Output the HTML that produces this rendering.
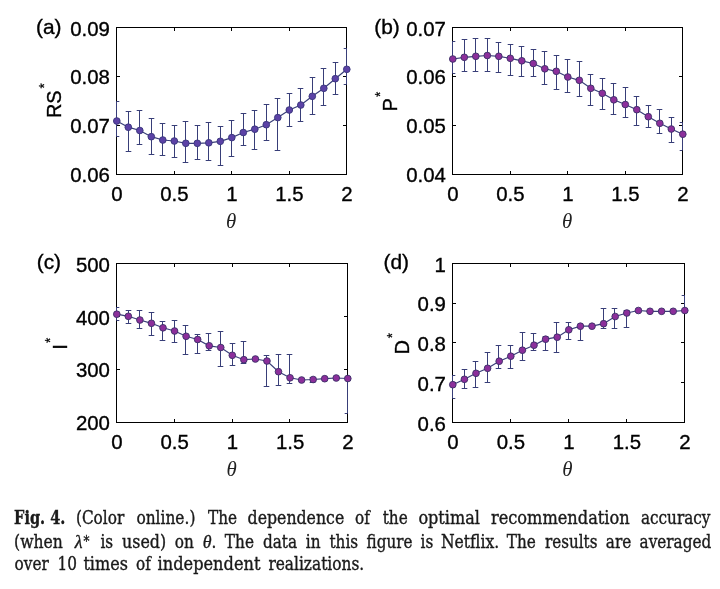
<!DOCTYPE html>
<html lang="en">
<head>
<meta charset="utf-8">
<title>Fig. 4</title>
<style>
html,body{margin:0;padding:0;background:#fff;}
body{width:720px;height:589px;position:relative;overflow:hidden;}
svg{position:absolute;left:0;top:0;will-change:transform;}
svg text{font-family:"Liberation Sans",sans-serif;font-size:20px;fill:#000;stroke:#000;stroke-width:0.35px;}
svg text.th{font-family:"Liberation Serif",serif;font-style:italic;font-size:22px;fill:#222;stroke:none;}
svg .sup{font-size:13.5px;stroke-width:0.2px;}
svg text.yl{font-size:20px;}
svg text.cp{font-family:"DejaVu Serif Condensed","DejaVu Serif",serif;font-size:18px;fill:#1a1a1a;stroke:#1a1a1a;stroke-width:0.35px;}
svg .mi{font-family:"Liberation Serif",serif;font-style:italic;font-size:19px;}
</style>
</head>
<body>
<svg width="720" height="589" viewBox="0 0 720 589">
<g id="panel-a">
<rect x="116.5" y="27.5" width="230" height="147" fill="none" stroke="#000" stroke-width="1"/>
<path d="M174.5 174.5v-3.5M174.5 27.5v3.5M231.5 174.5v-3.5M231.5 27.5v3.5M289.5 174.5v-3.5M289.5 27.5v3.5M116.5 76.5h3.5M346.5 76.5h-3.5M116.5 125.5h3.5M346.5 125.5h-3.5" stroke="#000" stroke-width="1" fill="none"/>
<path d="M116.5 101.3V136.7M116.5 101.5H119.3M116.5 136.5H119.3M128.5 111.3V151.3M125.7 111.5H131.3M125.7 151.5H131.3M139.5 110.3V144.2M136.7 110.5H142.3M136.7 144.5H142.3M151.5 118.3V154.3M148.7 118.5H154.3M148.7 154.5H154.3M162.5 123.3V155.3M159.7 123.5H165.3M159.7 155.5H165.3M174.5 125.3V157.3M171.7 125.5H177.3M171.7 157.5H177.3M185.5 121.3V162.3M182.7 121.5H188.3M182.7 162.5H188.3M197.5 125.3V159.3M194.7 125.5H200.3M194.7 159.5H200.3M208.5 122.3V160.5M205.7 122.5H211.3M205.7 160.5H211.3M220.5 126.3V165.5M217.7 126.5H223.3M217.7 165.5H223.3M231.5 120.3V156.3M228.7 120.5H234.3M228.7 156.5H234.3M243.5 113.3V145.3M240.7 113.5H246.3M240.7 145.5H246.3M254.5 110.3V149.3M251.7 110.5H257.3M251.7 149.5H257.3M266.5 104.3V140.3M263.7 104.5H269.3M263.7 140.5H269.3M277.5 98.3V150.3M274.7 98.5H280.3M274.7 150.5H280.3M289.5 93.3V126.3M286.7 93.5H292.3M286.7 126.5H292.3M300.5 88.3V121.3M297.7 88.5H303.3M297.7 121.5H303.3M312.5 77.3V114.3M309.7 77.5H315.3M309.7 114.5H315.3M323.5 68.3V105.3M320.7 68.5H326.3M320.7 105.5H326.3M335.5 62.3V94.3M332.7 62.5H338.3M332.7 94.5H338.3M346.5 48.3V84.3M343.7 48.5H346.5M343.7 84.5H346.5" stroke="#383e78" stroke-width="1" fill="none"/>
<polyline points="116.8,121 128.3,127.2 139.8,130.5 151.3,136.7 162.8,140 174.3,141 185.8,143.3 197.3,143.3 208.8,142.8 220.3,141.3 231.8,137.6 243.3,132.5 254.8,129.2 266.3,124.7 277.8,117.6 289.3,110 300.8,105 312.3,96.3 323.8,88.3 335.3,78.7 346.8,69.3" stroke="#383e78" stroke-width="1.2" fill="none"/>
<circle cx="116.8" cy="121" r="3.35" fill="#5c42a6" stroke="#38357a" stroke-width="0.9"/>
<circle cx="128.3" cy="127.2" r="3.35" fill="#5c42a6" stroke="#38357a" stroke-width="0.9"/>
<circle cx="139.8" cy="130.5" r="3.35" fill="#5c42a6" stroke="#38357a" stroke-width="0.9"/>
<circle cx="151.3" cy="136.7" r="3.35" fill="#5c42a6" stroke="#38357a" stroke-width="0.9"/>
<circle cx="162.8" cy="140" r="3.35" fill="#5c42a6" stroke="#38357a" stroke-width="0.9"/>
<circle cx="174.3" cy="141" r="3.35" fill="#5c42a6" stroke="#38357a" stroke-width="0.9"/>
<circle cx="185.8" cy="143.3" r="3.35" fill="#5c42a6" stroke="#38357a" stroke-width="0.9"/>
<circle cx="197.3" cy="143.3" r="3.35" fill="#5c42a6" stroke="#38357a" stroke-width="0.9"/>
<circle cx="208.8" cy="142.8" r="3.35" fill="#5c42a6" stroke="#38357a" stroke-width="0.9"/>
<circle cx="220.3" cy="141.3" r="3.35" fill="#5c42a6" stroke="#38357a" stroke-width="0.9"/>
<circle cx="231.8" cy="137.6" r="3.35" fill="#5c42a6" stroke="#38357a" stroke-width="0.9"/>
<circle cx="243.3" cy="132.5" r="3.35" fill="#5c42a6" stroke="#38357a" stroke-width="0.9"/>
<circle cx="254.8" cy="129.2" r="3.35" fill="#5c42a6" stroke="#38357a" stroke-width="0.9"/>
<circle cx="266.3" cy="124.7" r="3.35" fill="#5c42a6" stroke="#38357a" stroke-width="0.9"/>
<circle cx="277.8" cy="117.6" r="3.35" fill="#5c42a6" stroke="#38357a" stroke-width="0.9"/>
<circle cx="289.3" cy="110" r="3.35" fill="#5c42a6" stroke="#38357a" stroke-width="0.9"/>
<circle cx="300.8" cy="105" r="3.35" fill="#5c42a6" stroke="#38357a" stroke-width="0.9"/>
<circle cx="312.3" cy="96.3" r="3.35" fill="#5c42a6" stroke="#38357a" stroke-width="0.9"/>
<circle cx="323.8" cy="88.3" r="3.35" fill="#5c42a6" stroke="#38357a" stroke-width="0.9"/>
<circle cx="335.3" cy="78.7" r="3.35" fill="#5c42a6" stroke="#38357a" stroke-width="0.9"/>
<circle cx="346.8" cy="69.3" r="3.35" fill="#5c42a6" stroke="#38357a" stroke-width="0.9"/>
<text transform="translate(109.9 36.1) scale(1.02 1)" text-anchor="end">0.09</text>
<text transform="translate(109.9 84.2) scale(1.02 1)" text-anchor="end">0.08</text>
<text transform="translate(109.9 133.2) scale(1.02 1)" text-anchor="end">0.07</text>
<text transform="translate(109.9 182.1) scale(1.02 1)" text-anchor="end">0.06</text>
<text transform="translate(116.8 201.3) scale(1.02 1)" text-anchor="middle">0</text>
<text transform="translate(174.3 201.3) scale(1.02 1)" text-anchor="middle">0.5</text>
<text transform="translate(231.8 201.3) scale(1.02 1)" text-anchor="middle">1</text>
<text transform="translate(289.3 201.3) scale(1.02 1)" text-anchor="middle">1.5</text>
<text transform="translate(346.8 201.3) scale(1.02 1)" text-anchor="middle">2</text>
<text class="th" transform="translate(231.2 227.9) scale(0.95 1)" text-anchor="middle">θ</text>
<text transform="translate(36 33.6) scale(1.045 1)">(a)</text>
<text class="yl" transform="translate(61.2 100.7) scale(1.045 1) rotate(-90)" text-anchor="middle">RS<tspan class="sup" dx="1.8" dy="-11.5">*</tspan></text>
</g>
<g id="panel-b">
<rect x="452.5" y="27.5" width="230" height="147" fill="none" stroke="#000" stroke-width="1"/>
<path d="M510.5 174.5v-3.5M510.5 27.5v3.5M567.5 174.5v-3.5M567.5 27.5v3.5M625.5 174.5v-3.5M625.5 27.5v3.5M452.5 76.5h3.5M682.5 76.5h-3.5M452.5 125.5h3.5M682.5 125.5h-3.5" stroke="#000" stroke-width="1" fill="none"/>
<path d="M452.5 41.3V73.3M452.5 41.5H455.3M452.5 73.5H455.3M464.5 39.3V71.3M461.7 39.5H467.3M461.7 71.5H467.3M475.5 38.3V71.3M472.7 38.5H478.3M472.7 71.5H478.3M487.5 38.3V71.3M484.7 38.5H490.3M484.7 71.5H490.3M498.5 42.3V72.3M495.7 42.5H501.3M495.7 72.5H501.3M510.5 44.3V75.3M507.7 44.5H513.3M507.7 75.5H513.3M521.5 46.3V76.3M518.7 46.5H524.3M518.7 76.5H524.3M533.5 49.3V76.3M530.7 49.5H536.3M530.7 76.5H536.3M544.5 51.3V84.3M541.7 51.5H547.3M541.7 84.5H547.3M556.5 55.3V89.3M553.7 55.5H559.3M553.7 89.5H559.3M567.5 59.3V92.3M564.7 59.5H570.3M564.7 92.5H570.3M579.5 61.3V96.3M576.7 61.5H582.3M576.7 96.5H582.3M590.5 74.3V105.3M587.7 74.5H593.3M587.7 105.5H593.3M602.5 78.3V109.3M599.7 78.5H605.3M599.7 109.5H605.3M613.5 83.3V114.3M610.7 83.5H616.3M610.7 114.5H616.3M625.5 87.3V117.3M622.7 87.5H628.3M622.7 117.5H628.3M636.5 96.3V125.3M633.7 96.5H639.3M633.7 125.5H639.3M648.5 105.3V127.3M645.7 105.5H651.3M645.7 127.5H651.3M659.5 109.3V133.3M656.7 109.5H662.3M656.7 133.5H662.3M671.5 117.3V142.3M668.7 117.5H674.3M668.7 142.5H674.3M682.5 122.5V150M679.7 122.5H682.5M679.7 150.5H682.5" stroke="#383e78" stroke-width="1" fill="none"/>
<polyline points="452.8,59 464.3,57.3 475.8,56.3 487.3,55.5 498.8,56.3 510.3,58.3 521.8,60.8 533.3,63.5 544.8,68.8 556.3,71.3 567.8,77 579.3,80.3 590.8,88.3 602.3,93.3 613.8,99.8 625.3,104.5 636.8,109.7 648.3,116.7 659.8,123.3 671.3,129 682.8,134.2" stroke="#383e78" stroke-width="1.2" fill="none"/>
<circle cx="452.8" cy="59" r="3.35" fill="#8c2f9b" stroke="#3a3068" stroke-width="0.9"/>
<circle cx="464.3" cy="57.3" r="3.35" fill="#8c2f9b" stroke="#3a3068" stroke-width="0.9"/>
<circle cx="475.8" cy="56.3" r="3.35" fill="#8c2f9b" stroke="#3a3068" stroke-width="0.9"/>
<circle cx="487.3" cy="55.5" r="3.35" fill="#8c2f9b" stroke="#3a3068" stroke-width="0.9"/>
<circle cx="498.8" cy="56.3" r="3.35" fill="#8c2f9b" stroke="#3a3068" stroke-width="0.9"/>
<circle cx="510.3" cy="58.3" r="3.35" fill="#8c2f9b" stroke="#3a3068" stroke-width="0.9"/>
<circle cx="521.8" cy="60.8" r="3.35" fill="#8c2f9b" stroke="#3a3068" stroke-width="0.9"/>
<circle cx="533.3" cy="63.5" r="3.35" fill="#8c2f9b" stroke="#3a3068" stroke-width="0.9"/>
<circle cx="544.8" cy="68.8" r="3.35" fill="#8c2f9b" stroke="#3a3068" stroke-width="0.9"/>
<circle cx="556.3" cy="71.3" r="3.35" fill="#8c2f9b" stroke="#3a3068" stroke-width="0.9"/>
<circle cx="567.8" cy="77" r="3.35" fill="#8c2f9b" stroke="#3a3068" stroke-width="0.9"/>
<circle cx="579.3" cy="80.3" r="3.35" fill="#8c2f9b" stroke="#3a3068" stroke-width="0.9"/>
<circle cx="590.8" cy="88.3" r="3.35" fill="#8c2f9b" stroke="#3a3068" stroke-width="0.9"/>
<circle cx="602.3" cy="93.3" r="3.35" fill="#8c2f9b" stroke="#3a3068" stroke-width="0.9"/>
<circle cx="613.8" cy="99.8" r="3.35" fill="#8c2f9b" stroke="#3a3068" stroke-width="0.9"/>
<circle cx="625.3" cy="104.5" r="3.35" fill="#8c2f9b" stroke="#3a3068" stroke-width="0.9"/>
<circle cx="636.8" cy="109.7" r="3.35" fill="#8c2f9b" stroke="#3a3068" stroke-width="0.9"/>
<circle cx="648.3" cy="116.7" r="3.35" fill="#8c2f9b" stroke="#3a3068" stroke-width="0.9"/>
<circle cx="659.8" cy="123.3" r="3.35" fill="#8c2f9b" stroke="#3a3068" stroke-width="0.9"/>
<circle cx="671.3" cy="129" r="3.35" fill="#8c2f9b" stroke="#3a3068" stroke-width="0.9"/>
<circle cx="682.8" cy="134.2" r="3.35" fill="#8c2f9b" stroke="#3a3068" stroke-width="0.9"/>
<text transform="translate(445.9 36.1) scale(1.02 1)" text-anchor="end">0.07</text>
<text transform="translate(445.9 84.2) scale(1.02 1)" text-anchor="end">0.06</text>
<text transform="translate(445.9 133.2) scale(1.02 1)" text-anchor="end">0.05</text>
<text transform="translate(445.9 182.2) scale(1.02 1)" text-anchor="end">0.04</text>
<text transform="translate(452.8 201.3) scale(1.02 1)" text-anchor="middle">0</text>
<text transform="translate(510.3 201.3) scale(1.02 1)" text-anchor="middle">0.5</text>
<text transform="translate(567.8 201.3) scale(1.02 1)" text-anchor="middle">1</text>
<text transform="translate(625.3 201.3) scale(1.02 1)" text-anchor="middle">1.5</text>
<text transform="translate(682.8 201.3) scale(1.02 1)" text-anchor="middle">2</text>
<text class="th" transform="translate(567.2 227.9) scale(0.95 1)" text-anchor="middle">θ</text>
<text transform="translate(374.3 33.6) scale(1.045 1)">(b)</text>
<text class="yl" transform="translate(397.1 101.7) scale(1.045 1) rotate(-90)" text-anchor="middle">P<tspan class="sup" dx="1.2" dy="-11.5">*</tspan></text>
</g>
<g id="panel-c">
<rect x="116.5" y="263.5" width="231" height="159" fill="none" stroke="#000" stroke-width="1"/>
<path d="M174.5 422.5v-3.5M174.5 263.5v3.5M232.5 422.5v-3.5M232.5 263.5v3.5M289.5 422.5v-3.5M289.5 263.5v3.5M116.5 316.5h3.5M347.5 316.5h-3.5M116.5 369.5h3.5M347.5 369.5h-3.5" stroke="#000" stroke-width="1" fill="none"/>
<path d="M116.5 307.3V320.3M116.5 307.5H119.3M116.5 320.5H119.3M128.5 310.3V323.3M125.7 310.5H131.3M125.7 323.5H131.3M139.5 310.3V328.3M136.7 310.5H142.3M136.7 328.5H142.3M151.5 312.3V335.3M148.7 312.5H154.3M148.7 335.5H154.3M162.5 321.3V340.3M159.7 321.5H165.3M159.7 340.5H165.3M174.5 320.3V342.3M171.7 320.5H177.3M171.7 342.5H177.3M185.5 325.3V354.3M182.7 325.5H188.3M182.7 354.5H188.3M197.5 334.3V353.3M194.7 334.5H200.3M194.7 353.5H200.3M208.5 333.3V350.3M205.7 333.5H211.3M205.7 350.5H211.3M220.5 331.3V366.3M217.7 331.5H223.3M217.7 366.5H223.3M232.5 343.3V365.3M229.7 343.5H235.3M229.7 365.5H235.3M243.5 341.3V363.3M240.7 341.5H246.3M240.7 363.5H246.3M266.5 355.3V386.3M263.7 355.5H269.3M263.7 386.5H269.3M278.5 354.3V385.3M275.7 354.5H281.3M275.7 385.5H281.3M289.5 354.3V383.3M286.7 354.5H292.3M286.7 383.5H292.3M312.5 377V382M309.7 377.5H315.3M309.7 382.5H315.3M347.5 378.5V413.4M344.7 413.5H347.5" stroke="#383e78" stroke-width="1" fill="none"/>
<polyline points="116.8,314.2 128.35,316.3 139.9,320 151.45,323.3 163,327.8 174.55,331 186.1,336.3 197.65,339.5 209.2,345.8 220.75,347.5 232.3,355.3 243.85,359.7 255.4,359 266.95,361 278.5,371.7 290.05,377.8 301.6,380 313.15,379.5 324.7,378.7 336.25,378 347.8,378.5" stroke="#383e78" stroke-width="1.2" fill="none"/>
<circle cx="116.8" cy="314.2" r="3.35" fill="#8c2f9b" stroke="#3a3068" stroke-width="0.9"/>
<circle cx="128.35" cy="316.3" r="3.35" fill="#8c2f9b" stroke="#3a3068" stroke-width="0.9"/>
<circle cx="139.9" cy="320" r="3.35" fill="#8c2f9b" stroke="#3a3068" stroke-width="0.9"/>
<circle cx="151.45" cy="323.3" r="3.35" fill="#8c2f9b" stroke="#3a3068" stroke-width="0.9"/>
<circle cx="163" cy="327.8" r="3.35" fill="#8c2f9b" stroke="#3a3068" stroke-width="0.9"/>
<circle cx="174.55" cy="331" r="3.35" fill="#8c2f9b" stroke="#3a3068" stroke-width="0.9"/>
<circle cx="186.1" cy="336.3" r="3.35" fill="#8c2f9b" stroke="#3a3068" stroke-width="0.9"/>
<circle cx="197.65" cy="339.5" r="3.35" fill="#8c2f9b" stroke="#3a3068" stroke-width="0.9"/>
<circle cx="209.2" cy="345.8" r="3.35" fill="#8c2f9b" stroke="#3a3068" stroke-width="0.9"/>
<circle cx="220.75" cy="347.5" r="3.35" fill="#8c2f9b" stroke="#3a3068" stroke-width="0.9"/>
<circle cx="232.3" cy="355.3" r="3.35" fill="#8c2f9b" stroke="#3a3068" stroke-width="0.9"/>
<circle cx="243.85" cy="359.7" r="3.35" fill="#8c2f9b" stroke="#3a3068" stroke-width="0.9"/>
<circle cx="255.4" cy="359" r="3.35" fill="#8c2f9b" stroke="#3a3068" stroke-width="0.9"/>
<circle cx="266.95" cy="361" r="3.35" fill="#8c2f9b" stroke="#3a3068" stroke-width="0.9"/>
<circle cx="278.5" cy="371.7" r="3.35" fill="#8c2f9b" stroke="#3a3068" stroke-width="0.9"/>
<circle cx="290.05" cy="377.8" r="3.35" fill="#8c2f9b" stroke="#3a3068" stroke-width="0.9"/>
<circle cx="301.6" cy="380" r="3.35" fill="#8c2f9b" stroke="#3a3068" stroke-width="0.9"/>
<circle cx="313.15" cy="379.5" r="3.35" fill="#8c2f9b" stroke="#3a3068" stroke-width="0.9"/>
<circle cx="324.7" cy="378.7" r="3.35" fill="#8c2f9b" stroke="#3a3068" stroke-width="0.9"/>
<circle cx="336.25" cy="378" r="3.35" fill="#8c2f9b" stroke="#3a3068" stroke-width="0.9"/>
<circle cx="347.8" cy="378.5" r="3.35" fill="#8c2f9b" stroke="#3a3068" stroke-width="0.9"/>
<text transform="translate(109.9 272.1) scale(1.02 1)" text-anchor="end">500</text>
<text transform="translate(109.9 324.6) scale(1.02 1)" text-anchor="end">400</text>
<text transform="translate(109.9 376.8) scale(1.02 1)" text-anchor="end">300</text>
<text transform="translate(109.9 429.7) scale(1.02 1)" text-anchor="end">200</text>
<text transform="translate(116.8 449.3) scale(1.02 1)" text-anchor="middle">0</text>
<text transform="translate(174.55 449.3) scale(1.02 1)" text-anchor="middle">0.5</text>
<text transform="translate(232.3 449.3) scale(1.02 1)" text-anchor="middle">1</text>
<text transform="translate(290.05 449.3) scale(1.02 1)" text-anchor="middle">1.5</text>
<text transform="translate(347.8 449.3) scale(1.02 1)" text-anchor="middle">2</text>
<text class="th" transform="translate(231.7 475.9) scale(0.95 1)" text-anchor="middle">θ</text>
<text transform="translate(36.7 269.2) scale(1.045 1)">(c)</text>
<text class="yl" transform="translate(67.4 343.7) scale(1.045 1) rotate(-90)" text-anchor="middle">I<tspan class="sup" dx="1.2" dy="-11.5">*</tspan></text>
</g>
<g id="panel-d">
<rect x="452.5" y="263.5" width="232" height="159" fill="none" stroke="#000" stroke-width="1"/>
<path d="M510.5 422.5v-3.5M510.5 263.5v3.5M568.5 422.5v-3.5M568.5 263.5v3.5M626.5 422.5v-3.5M626.5 263.5v3.5M452.5 303.5h3.5M684.5 303.5h-3.5M452.5 342.5h3.5M684.5 342.5h-3.5M452.5 382.5h3.5M684.5 382.5h-3.5" stroke="#000" stroke-width="1" fill="none"/>
<path d="M452.5 375.3V398.3M452.5 375.5H455.3M452.5 398.5H455.3M464.5 369.3V388.3M461.7 369.5H467.3M461.7 388.5H467.3M475.5 361.3V387.3M472.7 361.5H478.3M472.7 387.5H478.3M487.5 352.3V382.3M484.7 352.5H490.3M484.7 382.5H490.3M498.5 345.3V368.3M495.7 345.5H501.3M495.7 368.5H501.3M510.5 345.3V368.3M507.7 345.5H513.3M507.7 368.5H513.3M522.5 332.3V360.3M519.7 332.5H525.3M519.7 360.5H525.3M533.5 333.3V350.3M530.7 333.5H536.3M530.7 350.5H536.3M545.5 336.3V350.3M542.7 336.5H548.3M542.7 350.5H548.3M556.5 322.3V352.3M553.7 322.5H559.3M553.7 352.5H559.3M568.5 322.4V339M565.7 322.5H571.3M565.7 339.5H571.3M580.5 326.2V340.3M577.7 340.5H583.3M603.5 308.3V328.3M600.7 308.5H606.3M600.7 328.5H606.3M614.5 308.3V328.3M611.7 308.5H617.3M611.7 328.5H617.3M626.5 310V327.3M623.7 310.5H629.3M623.7 327.5H629.3M684.5 295.3V310.5M681.7 295.5H684.5" stroke="#383e78" stroke-width="1" fill="none"/>
<polyline points="452.8,384.7 464.4,379.3 476,373.3 487.6,368.3 499.2,361.2 510.8,356.2 522.4,350.2 534,345.2 545.6,339.2 557.2,337.2 568.8,329.8 580.4,326.2 592,326.2 603.6,323.7 615.2,316.5 626.8,313 638.4,310.5 650,311.3 661.6,311.3 673.2,311.3 684.8,310.5" stroke="#383e78" stroke-width="1.2" fill="none"/>
<circle cx="452.8" cy="384.7" r="3.35" fill="#8c2f9b" stroke="#3a3068" stroke-width="0.9"/>
<circle cx="464.4" cy="379.3" r="3.35" fill="#8c2f9b" stroke="#3a3068" stroke-width="0.9"/>
<circle cx="476" cy="373.3" r="3.35" fill="#8c2f9b" stroke="#3a3068" stroke-width="0.9"/>
<circle cx="487.6" cy="368.3" r="3.35" fill="#8c2f9b" stroke="#3a3068" stroke-width="0.9"/>
<circle cx="499.2" cy="361.2" r="3.35" fill="#8c2f9b" stroke="#3a3068" stroke-width="0.9"/>
<circle cx="510.8" cy="356.2" r="3.35" fill="#8c2f9b" stroke="#3a3068" stroke-width="0.9"/>
<circle cx="522.4" cy="350.2" r="3.35" fill="#8c2f9b" stroke="#3a3068" stroke-width="0.9"/>
<circle cx="534" cy="345.2" r="3.35" fill="#8c2f9b" stroke="#3a3068" stroke-width="0.9"/>
<circle cx="545.6" cy="339.2" r="3.35" fill="#8c2f9b" stroke="#3a3068" stroke-width="0.9"/>
<circle cx="557.2" cy="337.2" r="3.35" fill="#8c2f9b" stroke="#3a3068" stroke-width="0.9"/>
<circle cx="568.8" cy="329.8" r="3.35" fill="#8c2f9b" stroke="#3a3068" stroke-width="0.9"/>
<circle cx="580.4" cy="326.2" r="3.35" fill="#8c2f9b" stroke="#3a3068" stroke-width="0.9"/>
<circle cx="592" cy="326.2" r="3.35" fill="#8c2f9b" stroke="#3a3068" stroke-width="0.9"/>
<circle cx="603.6" cy="323.7" r="3.35" fill="#8c2f9b" stroke="#3a3068" stroke-width="0.9"/>
<circle cx="615.2" cy="316.5" r="3.35" fill="#8c2f9b" stroke="#3a3068" stroke-width="0.9"/>
<circle cx="626.8" cy="313" r="3.35" fill="#8c2f9b" stroke="#3a3068" stroke-width="0.9"/>
<circle cx="638.4" cy="310.5" r="3.35" fill="#8c2f9b" stroke="#3a3068" stroke-width="0.9"/>
<circle cx="650" cy="311.3" r="3.35" fill="#8c2f9b" stroke="#3a3068" stroke-width="0.9"/>
<circle cx="661.6" cy="311.3" r="3.35" fill="#8c2f9b" stroke="#3a3068" stroke-width="0.9"/>
<circle cx="673.2" cy="311.3" r="3.35" fill="#8c2f9b" stroke="#3a3068" stroke-width="0.9"/>
<circle cx="684.8" cy="310.5" r="3.35" fill="#8c2f9b" stroke="#3a3068" stroke-width="0.9"/>
<text transform="translate(445.9 272.1) scale(1.02 1)" text-anchor="end">1</text>
<text transform="translate(445.9 310.85) scale(1.02 1)" text-anchor="end">0.9</text>
<text transform="translate(445.9 350.6) scale(1.02 1)" text-anchor="end">0.8</text>
<text transform="translate(445.9 390.85) scale(1.02 1)" text-anchor="end">0.7</text>
<text transform="translate(445.9 430.6) scale(1.02 1)" text-anchor="end">0.6</text>
<text transform="translate(452.8 449.3) scale(1.02 1)" text-anchor="middle">0</text>
<text transform="translate(510.8 449.3) scale(1.02 1)" text-anchor="middle">0.5</text>
<text transform="translate(568.8 449.3) scale(1.02 1)" text-anchor="middle">1</text>
<text transform="translate(626.8 449.3) scale(1.02 1)" text-anchor="middle">1.5</text>
<text transform="translate(684.8 449.3) scale(1.02 1)" text-anchor="middle">2</text>
<text class="th" transform="translate(567.3 475.9) scale(0.95 1)" text-anchor="middle">θ</text>
<text transform="translate(383.5 269.2) scale(1.045 1)">(d)</text>
<text class="yl" transform="translate(409.2 343.7) scale(1.045 1) rotate(-90)" text-anchor="middle">D<tspan class="sup" dx="1.8" dy="-11.5">*</tspan></text>
</g>
<g id="caption">
<text class="cp" transform="translate(39.75 524.3) scale(0.9444 1)" text-anchor="middle" textLength="54.32" lengthAdjust="spacingAndGlyphs"><tspan font-weight="bold">Fig. 4.</tspan></text>
<text class="cp" transform="translate(100.05 524.3) scale(0.9444 1)" text-anchor="middle" textLength="51.14" lengthAdjust="spacingAndGlyphs">(Color</text>
<text class="cp" transform="translate(165.9 524.3) scale(0.9444 1)" text-anchor="middle" textLength="62.47" lengthAdjust="spacingAndGlyphs">online.)</text>
<text class="cp" transform="translate(222.5 524.3) scale(0.9444 1)" text-anchor="middle">The</text>
<text class="cp" transform="translate(295.9 524.3) scale(0.9444 1)" text-anchor="middle" textLength="102.29" lengthAdjust="spacingAndGlyphs">dependence</text>
<text class="cp" transform="translate(362.4 524.3) scale(0.9444 1)" text-anchor="middle">of</text>
<text class="cp" transform="translate(395.25 524.3) scale(0.9444 1)" text-anchor="middle">the</text>
<text class="cp" transform="translate(449.15 524.3) scale(0.9444 1)" text-anchor="middle" textLength="65.12" lengthAdjust="spacingAndGlyphs">optimal</text>
<text class="cp" transform="translate(560.3 524.3) scale(0.9444 1)" text-anchor="middle" textLength="146.97" lengthAdjust="spacingAndGlyphs">recommendation</text>
<text class="cp" transform="translate(675.65 524.3) scale(0.9444 1)" text-anchor="middle" textLength="73.59" lengthAdjust="spacingAndGlyphs">accuracy</text>
<text class="cp" transform="translate(38.5 547.5) scale(0.9444 1)" text-anchor="middle" textLength="51.67" lengthAdjust="spacingAndGlyphs">(when</text>
<text class="cp" transform="translate(82.15 547.5) scale(0.9444 1)" text-anchor="middle"><tspan class="mi">λ</tspan><tspan font-size="14" dy="-2" dx="1">*</tspan></text>
<text class="cp" transform="translate(106.75 547.5) scale(0.9444 1)" text-anchor="middle">is</text>
<text class="cp" transform="translate(144.15 547.5) scale(0.9444 1)" text-anchor="middle" textLength="46.7" lengthAdjust="spacingAndGlyphs">used)</text>
<text class="cp" transform="translate(184.4 547.5) scale(0.9444 1)" text-anchor="middle">on</text>
<text class="cp" transform="translate(209.65 547.5) scale(0.9444 1)" text-anchor="middle"><tspan class="mi">θ</tspan>.</text>
<text class="cp" transform="translate(239.4 547.5) scale(0.9444 1)" text-anchor="middle">The</text>
<text class="cp" transform="translate(280.05 547.5) scale(0.9444 1)" text-anchor="middle">data</text>
<text class="cp" transform="translate(313.15 547.5) scale(0.9444 1)" text-anchor="middle">in</text>
<text class="cp" transform="translate(343.75 547.5) scale(0.9444 1)" text-anchor="middle">this</text>
<text class="cp" transform="translate(389.5 547.5) scale(0.9444 1)" text-anchor="middle" textLength="48.5" lengthAdjust="spacingAndGlyphs">figure</text>
<text class="cp" transform="translate(426.9 547.5) scale(0.9444 1)" text-anchor="middle">is</text>
<text class="cp" transform="translate(470.05 547.5) scale(0.9444 1)" text-anchor="middle" textLength="61.73" lengthAdjust="spacingAndGlyphs">Netflix.</text>
<text class="cp" transform="translate(521.25 547.5) scale(0.9444 1)" text-anchor="middle">The</text>
<text class="cp" transform="translate(571.25 547.5) scale(0.9444 1)" text-anchor="middle" textLength="55.38" lengthAdjust="spacingAndGlyphs">results</text>
<text class="cp" transform="translate(618.5 547.5) scale(0.9444 1)" text-anchor="middle">are</text>
<text class="cp" transform="translate(675.4 547.5) scale(0.9444 1)" text-anchor="middle" textLength="75.82" lengthAdjust="spacingAndGlyphs">averaged</text>
<text class="cp" transform="translate(31.65 570.2) scale(0.9444 1)" text-anchor="middle">over</text>
<text class="cp" transform="translate(67.15 570.2) scale(0.9444 1)" text-anchor="middle">10</text>
<text class="cp" transform="translate(105.65 570.2) scale(0.9444 1)" text-anchor="middle" textLength="47.12" lengthAdjust="spacingAndGlyphs">times</text>
<text class="cp" transform="translate(143.4 570.2) scale(0.9444 1)" text-anchor="middle">of</text>
<text class="cp" transform="translate(209 570.2) scale(0.9444 1)" text-anchor="middle" textLength="108.85" lengthAdjust="spacingAndGlyphs">independent</text>
<text class="cp" transform="translate(316.3 570.2) scale(0.9444 1)" text-anchor="middle" textLength="101.44" lengthAdjust="spacingAndGlyphs">realizations.</text>
</g>
</svg>
</body>
</html>
